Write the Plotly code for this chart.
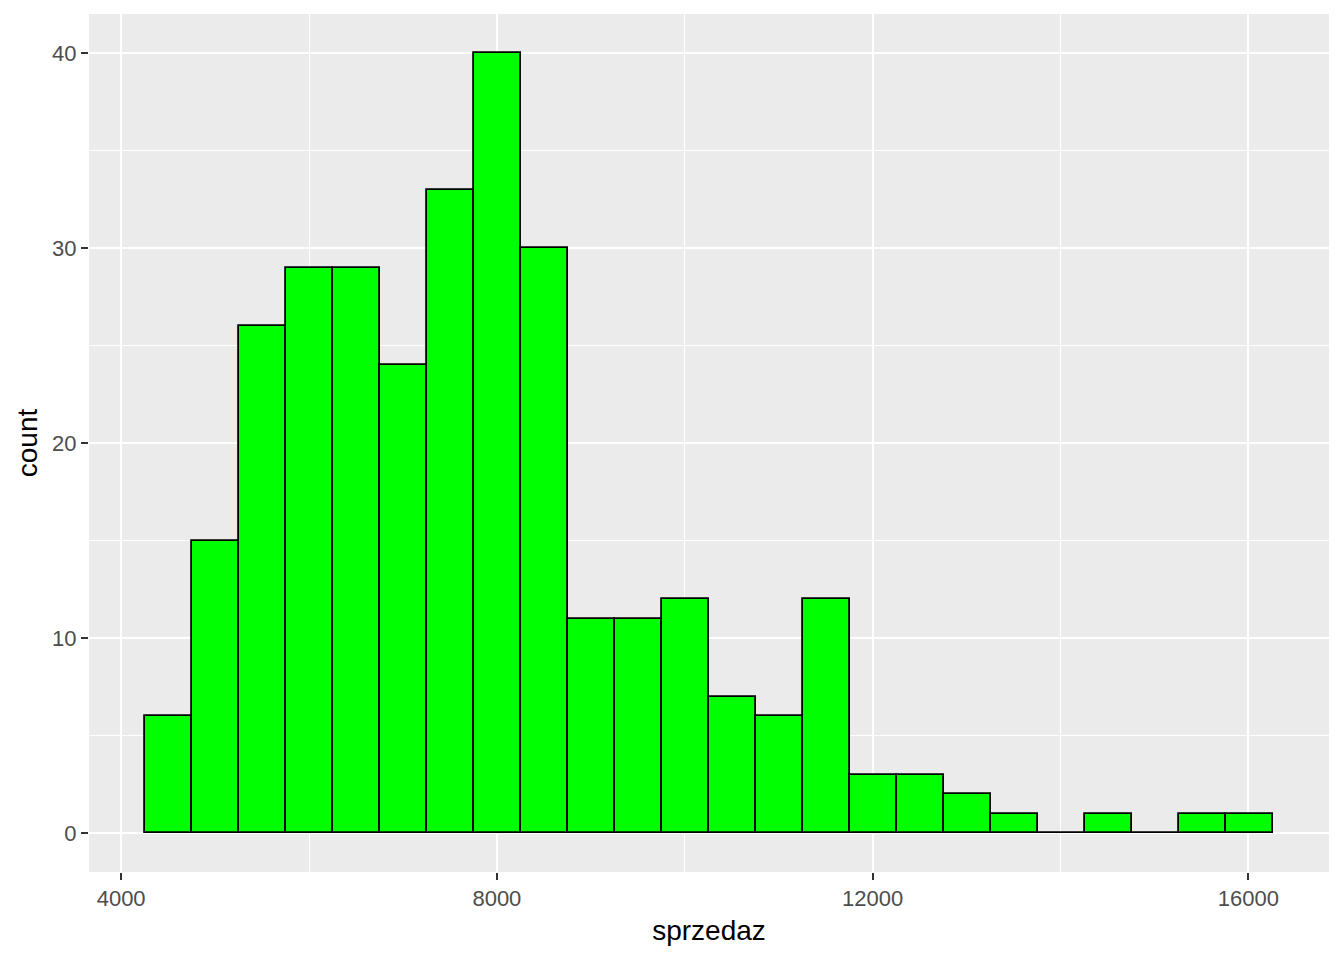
import plotly.graph_objects as go

bin_width = 500
bin_left_edges = [4258, 4758, 5258, 5758, 6258, 6758, 7258, 7758, 8258, 8758,
                  9258, 9758, 10258, 10758, 11258, 11758, 12258, 12758, 13258,
                  13758, 14258, 14758, 15258, 15758]
counts = [6, 15, 26, 29, 29, 24, 33, 40, 30, 11, 11, 12, 7, 6, 12, 3, 3, 2, 1,
          0, 1, 0, 1, 1]
x_ticks = [4000, 8000, 12000, 16000]
x_minor = [6000, 10000, 14000]
y_ticks = [0, 10, 20, 30, 40]
y_minor = [5, 15, 25, 35]

centers = [e + bin_width / 2 for e in bin_left_edges]

fig = go.Figure()
fig.add_trace(go.Bar(
    x=centers, y=counts, width=[bin_width] * len(counts),
    marker=dict(color="#00FF00", line=dict(color="black", width=1.8)),
    hoverinfo="x+y",
))

lo = bin_left_edges[0]
hi = bin_left_edges[-1] + bin_width
pad = (hi - lo) * 0.05
ymax = max(counts)

fig.update_layout(
    width=1328, height=944,
    margin=dict(l=81, r=7, t=6, b=80),
    paper_bgcolor="white", plot_bgcolor="#EBEBEB",
    font=dict(family="Liberation Sans, Arial, sans-serif"),
    showlegend=False,
    bargap=0,
    xaxis=dict(
        range=[lo - pad, hi + pad],
        tickvals=x_ticks, ticktext=[str(v) for v in x_ticks],
        showgrid=True, gridcolor="white", gridwidth=2,
        minor=dict(tickvals=x_minor, showgrid=True, gridcolor="white", gridwidth=1, ticks=""),
        ticks="outside", ticklen=7, tickwidth=2, tickcolor="#333333",
        tickfont=dict(size=22, color="#4D4D4D"),
        zeroline=False, showline=False,
        title=dict(text="sprzedaz", font=dict(size=28, color="black"), standoff=9),
    ),
    yaxis=dict(
        range=[-ymax * 0.05, ymax * 1.05],
        tickvals=y_ticks, ticktext=[str(v) for v in y_ticks],
        showgrid=True, gridcolor="white", gridwidth=2,
        minor=dict(tickvals=y_minor, showgrid=True, gridcolor="white", gridwidth=1, ticks=""),
        ticks="outside", ticklen=7, tickwidth=2, tickcolor="#333333",
        tickfont=dict(size=22, color="#4D4D4D"),
        zeroline=False, showline=False,
        title=dict(text="count", font=dict(size=28, color="black"), standoff=6),
    ),
)

fig.write_html("out.html")
